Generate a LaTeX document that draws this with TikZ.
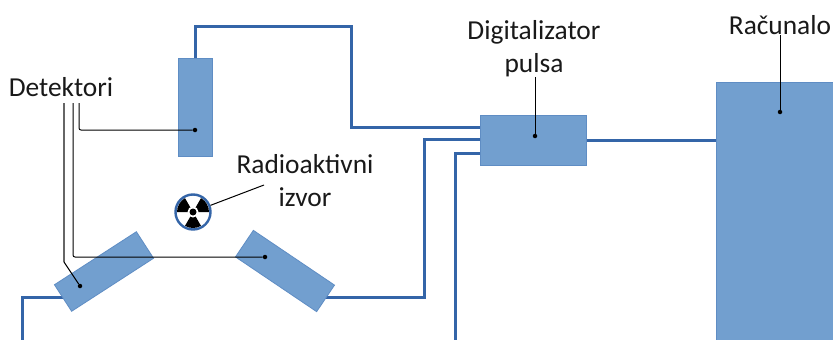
\documentclass[tikz,border=0pt]{standalone}
\usepackage{fontspec}
\setmainfont{Carlito}
\begin{document}
\begin{tikzpicture}[x=1pt,y=-1pt,
  box/.style={draw=boxedge,line width=0.8pt,fill=boxfill,inner sep=0pt,outer sep=0pt,minimum width=#1},
  wire/.style={draw=wireblue,line width=3pt,line join=miter},
  leader/.style={draw=black,line width=1pt,rounded corners=2pt},
  greyleader/.style={draw=black!60,line width=1.3pt},
  lab/.style={font=\fontsize{27.4}{32}\selectfont,inner sep=0pt,text=black!90,align=center},
  tip/.style={circle,fill=black,inner sep=0pt,minimum size=4.5pt}]
\definecolor{boxfill}{HTML}{729FCF}
\definecolor{boxedge}{HTML}{5F8DC4}
\definecolor{wireblue}{HTML}{3465A8}
\useasboundingbox (0,0) rectangle (833,340);
\fill[white] (0,0) rectangle (833,340);
% wire corners and free ends
\coordinate (wTopA) at (195,26);
\coordinate (wTopB) at (351,26);
\coordinate (wTopC) at (351,127);
\coordinate (inA) at (480,127);
\coordinate (wRightA) at (424,297);
\coordinate (wRightB) at (424,139);
\coordinate (inB) at (480,139);
\coordinate (wLeftStart) at (63,297);
\coordinate (wLeftA) at (22,297);
\coordinate (wLeftEnd) at (22,340);
\coordinate (wThirdEnd) at (455,340);
\coordinate (wThirdA) at (455,153);
\coordinate (inC) at (480,153);
\coordinate (wRightStart) at (325,297);
\coordinate (outD) at (586,140);
\coordinate (inR) at (716,140);
% wires
\draw[wire] (195,58) -- (wTopA) -- (wTopB) -- (wTopC) -- (inA);
\draw[wire] (wRightStart) -- (wRightA) -- (wRightB) -- (inB);
\draw[wire] (wLeftStart) -- (wLeftA) -- (wLeftEnd);
\draw[wire] (wThirdEnd) -- (wThirdA) -- (inC);
\draw[wire] (outD) -- (inR);
% boxes
\node[box=34pt,minimum height=98pt] (detTop) at (195,107) {};
\node[box=97.6pt,minimum height=31.6pt,rotate=32.9] (detLeft) at (104,271.5) {};
\node[box=97.9pt,minimum height=32pt,rotate=-34] (detRight) at (285,271) {};
\node[box=106pt,minimum height=50pt] (digi) at (533,140) {};
\node[box=118pt,minimum height=259pt] (comp) at (775,211.5) {};
% radioactive symbol
\node[circle,draw=wireblue,line width=2.4pt,fill=white,minimum size=35pt,inner sep=0pt] (src) at (193,212) {};
\begin{scope}[shift={(src.center)},x=1pt,y=1pt]
\foreach \a in {150,30,270}{
  \fill[black] (\a-30:4) -- (\a-30:16) arc[start angle=\a-30,end angle=\a+30,radius=16] -- (\a+30:4) -- cycle;
}
\end{scope}
\node[circle,fill=white,inner sep=0pt,minimum size=11pt] (srcHalo) at (src.center) {};
\node[circle,fill=black,inner sep=0pt,minimum size=7pt] (srcCore) at (src.center) {};
% labels
\node[lab] (lDet) at (61,87) {Detektori};
\node[lab] (lRad) at (305,164) {Radioaktivni};
\node[lab] (lIzv) at (305,197) {izvor};
\node[lab] (lDig) at (534,32) {Digitalizator};
\node[lab] (lPul) at (534,65) {pulsa};
\node[lab] (lRac) at (780,25) {Računalo};
% leader ends
\node[tip] (dotTop) at (195,130) {};
\node[tip] (dotRight) at (265,257) {};
\node[tip] (dotLeft) at (80,286) {};
\node[tip] (dotDig) at (535,136) {};
\node[tip] (dotRac) at (780,112) {};
\coordinate (srcLead) at (264,185);
\coordinate (dA) at (79,103);
\coordinate (dB) at (73,103);
\coordinate (dC) at (64,103);
\coordinate (dCb) at (64,262);
\draw[leader] (dA) |- (dotTop);
\draw[leader] (dB) |- (dotRight);
\draw[greyleader] (dC) -- (dCb);
\draw[leader] (dCb) -- (dotLeft);
\draw[leader] (src) -- (srcLead);
\draw[leader] (lPul.south -| dotDig) -- (dotDig);
\draw[leader] (lRac.south -| dotRac) -- (dotRac);
\end{tikzpicture}
\end{document}
